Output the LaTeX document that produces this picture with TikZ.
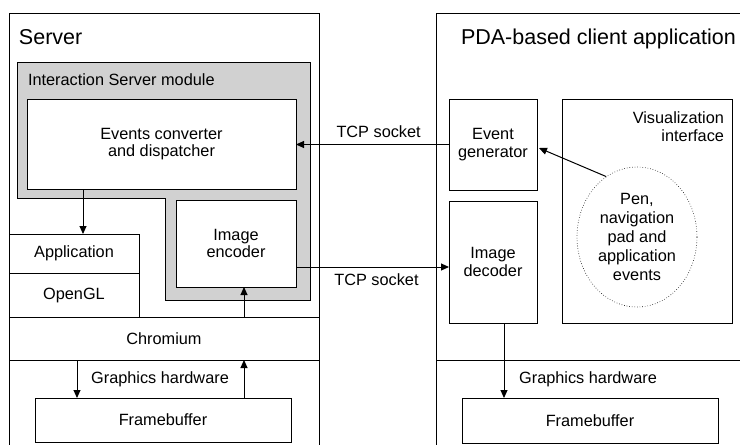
\documentclass[tikz,border=0pt]{standalone}
\usepackage{fontspec}
\setmainfont{Liberation Sans}
\usetikzlibrary{arrows.meta,shapes.geometric}
\definecolor{modgray}{gray}{0.82}
\newcommand{\boxfont}{\fontsize{16.3}{17.5}\selectfont}
\newcommand{\titlefont}{\fontsize{21.5}{24}\selectfont}
\tikzset{
  box/.style={draw,fill=white,inner sep=0pt,outer sep=0pt,align=center},
  arr/.style={-{Triangle[length=8pt,width=7pt]}},
  txt/.style={inner sep=0pt,outer sep=0pt}
}

\begin{document}
\begin{tikzpicture}[x=1pt,y=-1pt,line width=1pt,font=\boxfont]
\useasboundingbox (0,0) rectangle (740,445);

% Server side
\draw (9,445) |- (319,13) -- (319,445);
\node[txt,anchor=base west,font=\titlefont] (srvtitle) at (19,44) {Server};
\filldraw[fill=modgray] (17,62) -- (310,62) -- (310,300) -- (165,300) -- (165,198) -- (17,198) -- cycle;
\node[txt,anchor=base west] (modtitle) at (28,85) {Interaction Server module};
\node[box,minimum width=269pt,minimum height=90pt] (conv) at (161.5,144) {Events converter\\and dispatcher};
\node[box,minimum width=120pt,minimum height=87pt] (enc) at (236,243.5) {Image\\encoder};
\node[box,minimum width=130pt,minimum height=39pt] (app) at (74,253.5) {Application};
\node[box,minimum width=130pt,minimum height=44pt] (ogl) at (74,295) {OpenGL};
\node[box,minimum width=310pt,minimum height=43pt] (chrom) at (164,338.5) {Chromium};
\node[txt] (ghw1) at (160,379) {Graphics hardware};
\node[box,minimum width=256pt,minimum height=44pt] (fb1) at (163,420) {Framebuffer};

\coordinate (c1) at ([xshift=56pt]conv.south west);
\coordinate (c2) at ([xshift=8pt]enc.south);
\coordinate (c3) at ([xshift=42pt]fb1.north west);
\draw[arr] (c1) -- (c1 |- app.north);
\draw[arr] (c2 |- chrom.north) -- (c2);
\draw[arr] (c3 |- chrom.south) -- (c3);
\draw[arr] (c2 |- fb1.north) -- (c2 |- chrom.south);

% Client side
\draw (436,445) |- (740,13);
\draw (436,360) -- (740,360);
\node[txt,anchor=base west,font=\titlefont] (clititle) at (461,44) {PDA-based client application};
\node[box,minimum width=88pt,minimum height=91pt] (evg) at (493,144.5) {Event\\generator};
\node[box,minimum width=88pt,minimum height=122pt] (dec) at (493,262) {Image\\decoder};
\node[box,minimum width=170pt,minimum height=224pt] (vis) at (647,211) {};
\node[txt,anchor=north east,align=right] (vistitle) at (724,112) {Visualization\\interface};
\node[ellipse,draw,dotted,line width=0.6pt,minimum width=120pt,minimum height=140pt,inner sep=0pt,align=center,
  font=\fontsize{16.3}{19}\selectfont] (pen) at (637,237) {Pen,\\navigation\\pad and\\application\\events};
\node[txt] (ghw2) at (588,379) {Graphics hardware};
\node[box,minimum width=256pt,minimum height=45pt] (fb2) at (590,420.5) {Framebuffer};

\coordinate (c4) at ([yshift=-23.5pt]enc.east);
\coordinate (c5) at ([xshift=11pt]dec.south);
\draw[arr] (pen.117) -- ([xshift=2pt,yshift=-3.5pt]evg.east);
\draw[arr] (c5) -- (c5 |- fb2.north);

% TCP links
\draw[arr] (evg.west) -- (evg.west -| conv.east) node[pos=0.46,above=3pt] {TCP socket};
\draw[arr] (c4) -- (c4 -| dec.west) node[pos=0.526,below=3pt] {TCP socket};
\end{tikzpicture}
\end{document}
